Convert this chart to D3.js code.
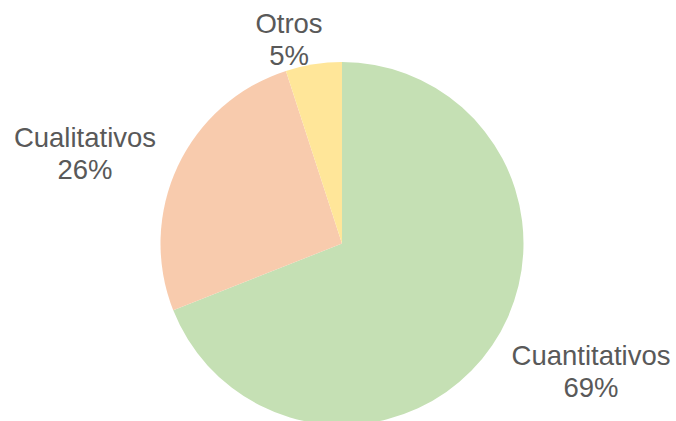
<!DOCTYPE html>
<meta charset="utf-8">
<head>
  <script src="https://d3js.org/d3.v7.min.js"></script>
  <style>
    body { margin: 0; background: #fff; }
    text { font-family: "Liberation Sans", Arial, sans-serif; fill: #595959; }
  </style>
</head>
<body>
<div id="display"></div>
<script>
  var categories = ["Cuantitativos", "Cualitativos", "Otros"];
  var values = [69, 26, 5];
  var colors = ["#C5E0B4", "#F8CBAD", "#FFE699"];

  var width = 676, height = 421,
      cx = 342, cy = 243.5,
      radius = 181.5;

  // label anchor points (centre of text block)
  var labelPos = [[591, 365], [85, 147], [289, 33]];

  var svg = d3.select("#display")
    .append("svg")
      .attr("width", width)
      .attr("height", height);

  var g = svg.append("g")
      .attr("transform", "translate(" + cx + "," + cy + ")");

  var pie = d3.pie().sort(null).value(function(d) { return d; });
  var arc = d3.arc().innerRadius(0).outerRadius(radius);

  g.selectAll("path")
    .data(pie(values))
    .enter()
    .append("path")
      .attr("d", arc)
      .attr("fill", function(d, i) { return colors[i]; });

  var labels = svg.append("g")
    .selectAll("text")
    .data(categories)
    .enter()
    .append("text")
      .attr("text-anchor", "middle")
      .style("font-size", "27.5px")
      .attr("transform", function(d, i) { return "translate(" + labelPos[i][0] + "," + labelPos[i][1] + ")"; });

  labels.append("tspan")
    .attr("x", 0).attr("y", 0)
    .text(function(d) { return d; });
  labels.append("tspan")
    .attr("x", 0).attr("y", 32)
    .text(function(d, i) { return values[i] + "%"; });
</script>
</body>
